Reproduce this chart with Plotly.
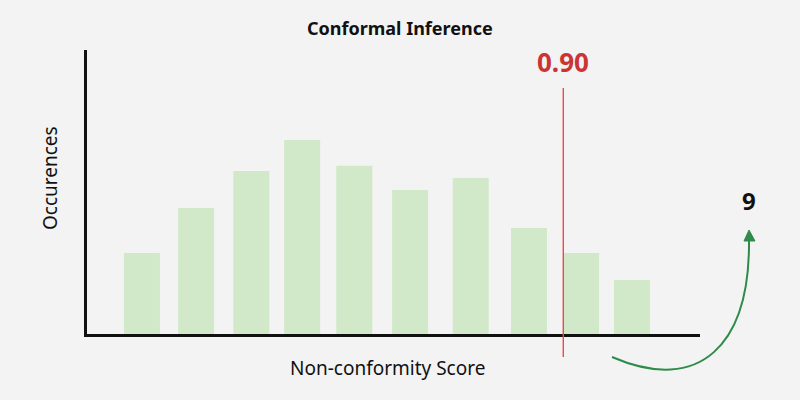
import plotly.graph_objects as go

# Data
bin_centers = [0.0897, 0.178, 0.268, 0.351, 0.436, 0.527, 0.626, 0.721, 0.806, 0.889]
occurrences = [2.85, 4.44, 5.74, 6.83, 5.92, 5.07, 5.49, 3.73, 2.85, 1.90]
threshold_x = 0.777
threshold_label = "0.90"
count_label = "9"
title_text = "Conformal Inference"
x_title = "Non-conformity Score"
y_title = "Occurences"

L, R, T, B = 87, 100, 50, 66
W, H = 800, 400
pw, ph = W - L - R, H - T - B

def px(x):
    return (x - L) / pw

def py(y):
    return (H - B - y) / ph

FONT = "Noto Sans"

fig = go.Figure()
fig.add_trace(go.Bar(x=bin_centers, y=occurrences, width=0.0587,
                     marker=dict(color="#d2e9c9", line=dict(width=0)),
                     hoverinfo="skip"))

fig.add_shape(type="line", xref="x", yref="paper", x0=threshold_x, x1=threshold_x,
              y0=py(357), y1=py(88), line=dict(color="#f04848", width=1.4))

# curved arrow
path = "M {},{} C {},{} {},{} {},{}".format(px(612), py(357), px(700), py(395), px(750), py(345), px(749), py(240))
fig.add_shape(type="path", xref="paper", yref="paper", path=path,
              line=dict(color="#2e8b4a", width=2))
tri = "M {},{} L {},{} L {},{} Z".format(px(749), py(230), px(744), py(241), px(755), py(241))
fig.add_shape(type="path", xref="paper", yref="paper", path=tri,
              line=dict(color="#2e8b4a", width=1), fillcolor="#2e8b4a")

def label(x, y, text, size, color, angle=0, xref="paper"):
    fig.add_annotation(x=x, xref=xref, y=y, yref="paper", text=text, textangle=angle,
                       xanchor="center", yanchor="middle", showarrow=False,
                       font=dict(size=size, color=color, family=FONT))

label(threshold_x, py(62), "<b>" + threshold_label + "</b>", 26, "#cc3333", xref="x")
label(px(749), py(200), "<b>" + count_label + "</b>", 24, "#111111")
label(px(387), py(368), x_title, 19, "#111111")
label(px(50), py(178), y_title, 19, "#111111", angle=-90)
label(px(400), py(28), "<b>" + title_text + "</b>", 18, "#111111")

fig.update_layout(
    width=W, height=H,
    margin=dict(l=L, r=R, t=T, b=B),
    paper_bgcolor="#f3f3f3", plot_bgcolor="#f3f3f3",
    showlegend=False,
    font=dict(family=FONT, color="#111111"),
    xaxis=dict(range=[0, 1], showgrid=False, zeroline=False, showticklabels=False,
               showline=True, linecolor="#111111", linewidth=2.5, ticks="", fixedrange=True),
    yaxis=dict(range=[0, 10], showgrid=False, zeroline=False, showticklabels=False,
               showline=True, linecolor="#111111", linewidth=2.5, ticks="", fixedrange=True),
)

fig.write_html("out.html", config={"displayModeBar": False},
               post_script="document.body.style.margin='0';document.body.style.background='#f3f3f3';")
